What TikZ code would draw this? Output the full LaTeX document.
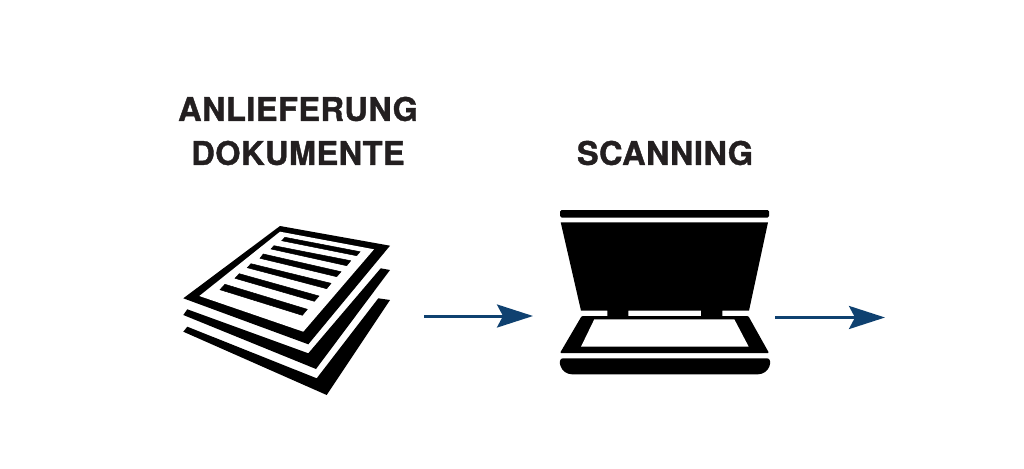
\documentclass[tikz,border=0pt]{standalone}
\usepackage{fontspec}
\setmainfont[BoldFeatures={FakeBold=1.2,LetterSpace=1.5}]{TeX Gyre Heros}
\usetikzlibrary{arrows.meta}
\definecolor{flowblue}{HTML}{0F4170}
\definecolor{inkblack}{HTML}{000000}
\definecolor{titlegray}{HTML}{231F20}
\begin{document}
\begin{tikzpicture}[x=1pt, y=-1pt,
    title/.style={font=\bfseries\fontsize{32.5}{38}\selectfont, text=titlegray, inner sep=0pt},
    flow/.style={draw=flowblue, line width=3pt, -{Stealth[length=36pt, width=23pt, inset=6pt, fill=flowblue]}},
    ink/.style={fill=inkblack, draw=none},
    textline/.style={fill=inkblack, draw=inkblack, line width=0.5pt},
    blank/.style={fill=white, draw=none}]
\useasboundingbox (0,0) rectangle (1024,468);

% Titles
\node[title] (anlieferung) at (298,109) {ANLIEFERUNG};
\node[title] (dokumente) at (298,153) {DOKUMENTE};
\node[title] (scanning) at (665,153) {SCANNING};

% Document stack
\fill[ink] (280,226) -- (390,245.7) -- (308.3,344.3) -- (183.3,298.3) -- cycle;
\fill[blank] (280,231.7) -- (374,249.3) -- (303.3,331.7) -- (199.3,296) -- cycle;
\filldraw[textline] (285,237.3) -- (360,251.7) -- (356.7,255.7) -- (281.7,240.7) -- cycle;
\filldraw[textline] (274,245.7) -- (350.7,260.7) -- (346.7,265.7) -- (271,249) -- cycle;
\filldraw[textline] (263.3,254) -- (341,271.7) -- (336.7,276.7) -- (260,258.3) -- cycle;
\filldraw[textline] (251,263.7) -- (331,283.3) -- (326.7,288.7) -- (247.3,267.7) -- cycle;
\filldraw[textline] (239.3,273.7) -- (319,296) -- (314.3,301.3) -- (235,278.3) -- cycle;
\filldraw[textline] (225,284.3) -- (307.3,309.3) -- (302.3,315.3) -- (220,289.7) -- cycle;
\fill[ink] (187.3,309.3) -- (308.3,353.3) -- (380.7,268.3) -- (390,270) -- (316,369) -- (183.3,315) -- cycle;
\fill[ink] (187.3,326.7) -- (316.7,378.3) -- (378.3,298.3) -- (390,300) -- (326.7,395) -- (183.3,331.7) -- cycle;

% Scanner
\fill[ink, rounded corners=1.5pt] (560,210) rectangle (769,217.5);
\fill[ink] (560.7,222.3) -- (768,222.3) -- (749,310.7) -- (722.3,310.7) -- (722.3,316.7) -- (701,316.7) -- (701,310.7) -- (628.3,310.7) -- (628.3,316.7) -- (607.3,316.7) -- (607.3,310.7) -- (581,310.7) -- cycle;
\fill[ink, rounded corners=1pt] (581.7,316) -- (748.3,316) -- (769,353) -- (560,353) -- cycle;
\fill[blank] (594.3,319.3) -- (734.3,319.3) -- (748.7,346.7) -- (581,346.7) -- cycle;
\fill[ink] (563,358.3) -- (767,358.3) .. controls (770,358.3) and (771,362) .. (769.5,366) .. controls (768,371) and (763,374.3) .. (758,374.3) -- (572,374.3) .. controls (567,374.3) and (562,371) .. (560.5,366) .. controls (559,362) and (560,358.3) .. (563,358.3) -- cycle;

% Connections
\coordinate (stackout) at (424,316);
\coordinate (scanin) at (533,316);
\coordinate (scanout) at (775,317.5);
\coordinate (nextin) at (885,317.5);
\draw[flow] (stackout) -- (scanin);
\draw[flow] (scanout) -- (nextin);
\end{tikzpicture}
\end{document}
